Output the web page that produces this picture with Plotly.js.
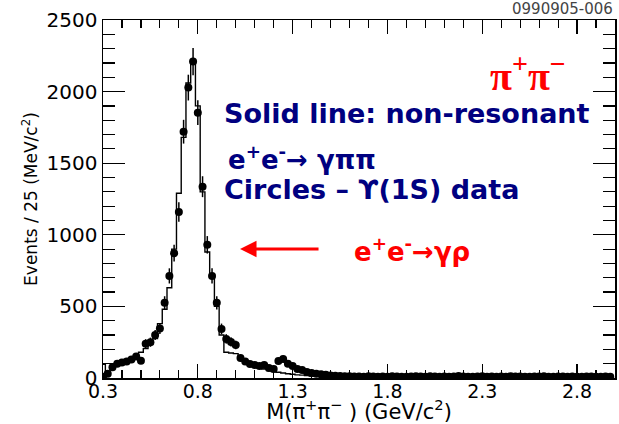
<!DOCTYPE html>
<html>
<head>
<meta charset="utf-8">
<script src="https://cdn.plot.ly/plotly-3.0.1.min.js"></script>
<style>
  html, body { margin: 0; padding: 0; background: #fff; }
  #chart { width: 619px; height: 424px; }
</style>
</head>
<body>
<div id="chart"></div>
<script>
// M(pi+ pi-) spectrum, 25 MeV bins starting at 0.300 GeV
const binStart = 0.3;
const binWidth = 0.025;

// Upsilon(1S) data (circles), events per bin
const dataCounts = [
  8, 30, 75, 100, 108, 115, 130, 150, 120, 240,
  250, 300, 345, 525, 713, 872, 1160, 1720, 2028, 2210,
  1853, 1336, 930, 713, 525, 343, 273, 252, 231, 140,
  115, 98, 90, 84, 91, 70, 63, 119, 133, 100,
  84, 63, 56, 42, 35, 30, 26, 22, 18, 16,
  14, 12, 13, 10, 11, 9, 12, 10, 8, 11,
  9, 12, 10, 8, 9, 11, 13, 10, 9, 12,
  10, 8, 11, 9, 10, 14, 11, 9, 8, 10,
  12, 9, 11, 8, 10, 9, 13, 11, 10, 8,
  9, 11, 10, 12, 9, 8, 10, 11, 9, 10,
  8, 9, 11, 10, 9, 8, 10, 9
];

// statistical errors on the data points
const dataErrors = [
  6, 12, 18, 20, 21, 22, 23, 25, 22, 31,
  32, 35, 37, 46, 53, 59, 68, 83, 90, 95,
  86, 73, 61, 53, 46, 37, 33, 32, 30, 24,
  21, 20, 19, 18, 19, 17, 16, 21, 23, 20,
  18, 16, 15, 13, 12, 11, 10, 9, 8, 8,
  7, 7, 7, 7, 7, 7, 7, 7, 7, 7,
  7, 7, 7, 7, 7, 7, 7, 7, 7, 7,
  7, 7, 7, 7, 7, 7, 7, 7, 7, 7,
  7, 7, 7, 7, 7, 7, 7, 7, 7, 7,
  7, 7, 7, 7, 7, 7, 7, 7, 7, 7,
  7, 7, 7, 7, 7, 7, 7, 7
];

// non-resonant e+e- -> gamma pi pi (solid histogram)
const mcCounts = [
  95, 30, 75, 95, 110, 125, 140, 160, 180, 205,
  235, 275, 380, 480, 630, 900, 1290, 1680, 2060, 2220,
  1900, 1300, 880, 700, 500, 300, 180, 175, 170, 140,
  120, 100, 85, 72, 62, 52, 45, 40, 35, 30,
  26, 22, 20, 17, 14, 12, 10, 8, 6, 5,
  5, 4, 4, 4, 3, 3, 3, 3, 3, 3,
  3, 3, 2, 2, 2, 2, 2, 2, 2, 2,
  2, 2, 2, 2, 2, 2, 2, 2, 2, 2,
  2, 2, 2, 2, 1, 1, 1, 1, 1, 1,
  1, 1, 1, 1, 1, 1, 1, 1, 1, 1,
  1, 1, 1, 1, 1, 1, 1, 1
];

const xTickLabels = ['0.3', '0.8', '1.3', '1.8', '2.3', '2.8'];
const yTickLabels = ['0', '500', '1000', '1500', '2000', '2500'];

const centers = dataCounts.map((_, i) => binStart + i * binWidth);

// step outline of the histogram through the bin edges
const stepX = [], stepY = [];
mcCounts.forEach((v, i) => {
  const lo = binStart + (i - 0.5) * binWidth;
  const hi = lo + binWidth;
  if (i === 0) { stepX.push(lo); stepY.push(0); }
  stepX.push(lo, hi); stepY.push(v, v);
});
stepX.push(stepX[stepX.length - 1]); stepY.push(0);

const FONT = 'DejaVu Sans, Liberation Sans, Arial, sans-serif';
const NAVY = '#000080';
const RED = '#ff0000';

const traces = [
  {
    type: 'scatter', mode: 'lines',
    x: stepX, y: stepY,
    line: { color: '#000', width: 1.4, shape: 'linear' },
    hoverinfo: 'skip', showlegend: false
  },
  {
    type: 'scatter', mode: 'markers',
    x: centers, y: dataCounts,
    marker: { symbol: 'circle', size: 8, color: '#000' },
    error_y: { type: 'data', array: dataErrors, visible: true, color: '#000', thickness: 1.5, width: 0 },
    showlegend: false
  }
];

const layout = {
  width: 619, height: 424,
  margin: { l: 103, r: 4, t: 20, b: 46 },
  paper_bgcolor: '#fff', plot_bgcolor: '#fff',
  font: { family: FONT, color: '#000' },
  showlegend: false,
  xaxis: {
    range: [0.3, 3.0],
    tickmode: 'array',
    tickvals: xTickLabels.map(Number), ticktext: xTickLabels,
    ticks: 'inside', ticklen: 14, tickwidth: 1.2, tickcolor: '#000',
    minor: { dtick: 0.1, tick0: 0.3, ticks: 'inside', ticklen: 8, tickwidth: 1.2, tickcolor: '#000', showgrid: false },
    showline: true, linecolor: '#000', linewidth: 1.5, mirror: 'allticks',
    showgrid: false, zeroline: false,
    ticklabelstandoff: -4,
    tickfont: { family: FONT, size: 19 },
    title: { text: 'M(π<sup>+</sup>π<sup>−</sup> ) (GeV/c<sup>2</sup>)', font: { family: FONT, size: 21 }, standoff: 9 }
  },
  yaxis: {
    range: [0, 2500],
    tickmode: 'array',
    tickvals: yTickLabels.map(Number), ticktext: yTickLabels,
    ticks: 'inside', ticklen: 22, tickwidth: 1.2, tickcolor: '#000',
    minor: { dtick: 100, tick0: 0, ticks: 'inside', ticklen: 12, tickwidth: 1.2, tickcolor: '#000', showgrid: false },
    showline: true, linecolor: '#000', linewidth: 1.5, mirror: 'allticks',
    showgrid: false, zeroline: false,
    tickfont: { family: FONT, size: 20 },
    title: { text: 'Events / 25 (MeV/c<sup>2</sup>)', font: { family: FONT, size: 17 }, standoff: 4 }
  },
  annotations: [
    { xref: 'paper', yref: 'paper', x: 1, y: 1.0, xanchor: 'right', yanchor: 'bottom',
      text: '0990905-006', showarrow: false, font: { family: FONT, size: 15, color: '#444' } },
    { x: 2.54, y: 2125, xanchor: 'center', yanchor: 'middle',
      text: 'π<sup>+</sup>π<sup>−</sup>', showarrow: false,
      font: { family: 'Liberation Serif, DejaVu Serif, serif', size: 40, color: RED, weight: 'bold' } },
    { x: 0.928, y: 1850, xanchor: 'left', yanchor: 'middle',
      text: 'Solid line: non-resonant', showarrow: false,
      font: { family: FONT, size: 27, color: NAVY, weight: 'bold' } },
    { x: 0.949, y: 1536, xanchor: 'left', yanchor: 'middle',
      text: 'e<sup>+</sup>e<sup>-</sup>→ γππ', showarrow: false,
      font: { family: FONT, size: 26, color: NAVY, weight: 'bold' } },
    { x: 0.928, y: 1313, xanchor: 'left', yanchor: 'middle',
      text: 'Circles – ϒ(1S) data', showarrow: false,
      font: { family: FONT, size: 27, color: NAVY, weight: 'bold' } },
    { x: 1.613, y: 894, xanchor: 'left', yanchor: 'middle',
      text: 'e<sup>+</sup>e<sup>-</sup>→γρ', showarrow: false,
      font: { family: FONT, size: 26, color: RED, weight: 'bold' } },
    { x: 1.0226, y: 901, ax: 80, ay: 0, text: '', showarrow: true,
      arrowhead: 2, arrowsize: 1.1, arrowwidth: 3, arrowcolor: RED }
  ]
};

Plotly.newPlot('chart', traces, layout, { displayModeBar: false, staticPlot: true });
</script>
</body>
</html>
